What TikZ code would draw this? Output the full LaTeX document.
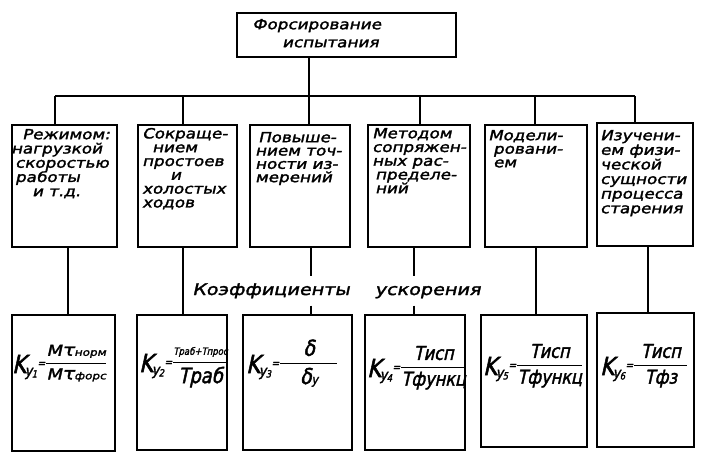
\documentclass[tikz,border=0pt]{standalone}
\usepackage{amsmath}
\usepackage{fontspec}
\setmainfont{DejaVu Sans}[FakeStretch=1.2,FakeSlant=0.22,FakeBold=2]
\newfontfamily\kfont{DejaVu Sans}[FakeStretch=0.85,FakeSlant=0.22,FakeBold=2]
\newcommand\sm[2]{{\fontsize{#1}{#1}\selectfont #2}}
\newcommand\sk[2]{{\kfont\fontsize{#1}{#1}\selectfont #2}}
\newcommand\Kf[1]{\sk{25}{K}\kern-1.5pt\raisebox{-3pt}{\sk{15}{у}\kern-0.5pt\raisebox{-1.5pt}{\sk{10}{#1}}}\kern0.3pt\raisebox{6pt}{\sk{11}{=}}}
\newcommand\Fr[2]{\raisebox{5.5pt}{$\genfrac{}{}{1.3pt}{0}{\text{#1}}{\text{#2}}$}}
\tikzset{
  box/.style={draw, line width=2.5pt, inner sep=0pt},
  conn/.style={line width=1.3pt},
  txt/.style={anchor=north west, inner sep=0pt, align=left},
  frm/.style={anchor=base west, inner sep=0pt, font=\fontsize{18}{18}\selectfont},
}
\begin{document}
\begin{tikzpicture}[x=1pt,y=-1pt]
\useasboundingbox (0,0) rectangle (707,461);
% top box
\node[box, minimum width=219pt, minimum height=44pt] (top) at (346.5,35) {};
\node[txt, font=\fontsize{14}{18}\selectfont] (ttop) at (252,18.8) {Форсирование\\\hspace*{30pt}испытания};
% upper row boxes
\node[box, minimum width=105pt, minimum height=122pt] (b1) at (64.5,186) {};
\node[box, minimum width=99pt, minimum height=122pt] (b2) at (187.5,186) {};
\node[box, minimum width=100pt, minimum height=122pt] (b3) at (300,186) {};
\node[box, minimum width=102pt, minimum height=122pt] (b4) at (419,186) {};
\node[box, minimum width=102pt, minimum height=122pt] (b5) at (536,186) {};
\node[box, minimum width=96pt, minimum height=123pt] (b6) at (645,184.5) {};
% lower row boxes
\node[box, minimum width=103pt, minimum height=136pt] (c1) at (63.5,383) {};
\node[box, minimum width=90pt, minimum height=135pt] (c2) at (182,382.5) {};
\node[box, minimum width=109pt, minimum height=135pt] (c3) at (297.5,382.5) {};
\node[box, minimum width=100pt, minimum height=135pt] (c4) at (415,382.5) {};
\node[box, minimum width=106pt, minimum height=132pt] (c5) at (534,381) {};
\node[box, minimum width=97pt, minimum height=134pt] (c6) at (645.5,380) {};
% texts in upper boxes
\node[txt, font=\fontsize{14}{14.25}\selectfont] (t1) at (11,128.8) {\hspace*{11pt}Режимом:\\нагрузкой\\\hspace*{4pt}скоростью\\\hspace*{4pt}работы\\\hspace*{21pt}и т.д.};
\node[txt, font=\fontsize{14}{13.8}\selectfont] (t2) at (142,127.8) {Сокраще-\\\hspace*{10pt}нием\\простоев\\\hspace*{28pt}и\\холостых\\ходов};
\node[txt, font=\fontsize{14}{13.3}\selectfont] (t3) at (255,131.8) {\hspace*{3pt}Повыше-\\нием точ-\\ности из-\\мерений};
\node[txt, font=\fontsize{14}{13.75}\selectfont] (t4) at (372,127.8) {Методом\\сопряжен-\\ных рас-\\\hspace*{3pt}пределе-\\\hspace*{3pt}ний};
\node[txt, font=\fontsize{14}{13.5}\selectfont] (t5) at (488,129.8) {Модели-\\\hspace*{5pt}ровани-\\\hspace*{5pt}ем};
\node[txt, font=\fontsize{14}{14.6}\selectfont] (t6) at (600,129.8) {Изучени-\\ем физи-\\ческой\\сущности\\процесса\\старения};
% formulas
\node[frm] (f1) at (12,373) {\Kf{1}\Fr{\sm{15}{M}\sm{17}{τ}\sm{10}{норм}}{\sm{15}{M}\sm{17}{τ}\sm{10}{форс}}};
\node[frm] (f2) at (139,372) {\Kf{2}\Fr{\sk{10}{Tраб+Tпрос}}{\sk{21}{Tраб}}};
\node[frm] (f3) at (246,373) {\Kf{3}\Fr{\makebox[57pt]{\sk{22}{δ}}}{\sk{22}{δ}\sk{13}{у}}};
\node[frm] (f4) at (367,377) {\Kf{4}\Fr{\sk{19}{Tисп}}{\sk{19}{Tфункц}}};
\node[frm] (f5) at (483,375) {\Kf{5}\Fr{\makebox[63pt]{\sk{19}{Tисп}}}{\sk{19}{Tфункц}}};
\node[frm] (f6) at (600,375) {\Kf{6}\Fr{\makebox[53pt]{\sk{19}{Tисп}}}{\sk{19}{Tфз}}};
% label
\node[anchor=base west, inner xsep=0pt, inner ysep=7pt, font=\fontsize{16}{16}\selectfont] (lab) at (192,295) {Коэффициенты\hspace{25pt}ускорения};
% connectors
\coordinate (j) at (309,96);
\coordinate (hL) at (55,96);
\coordinate (hR) at (635,96);
\coordinate (u2) at (183,96);
\coordinate (u4) at (420,96);
\coordinate (u5) at (535,96);
\draw[conn] (top.south -| j) -- (j);
\draw[conn] (hL) -- (hR);
\draw[conn] (hL) -- (hL |- b1.north);
\draw[conn] (u2) -- (u2 |- b2.north);
\draw[conn] (j) -- (j |- b3.north);
\draw[conn] (u4) -- (u4 |- b4.north);
\draw[conn] (u5) -- (u5 |- b5.north);
\draw[conn] (hR) -- (hR |- b6.north);
\coordinate (d1) at (68,0);
\coordinate (d2) at (183,0);
\coordinate (d3) at (311,0);
\coordinate (d4) at (414,0);
\coordinate (d5) at (536,0);
\coordinate (d6) at (648,0);
\draw[conn] (d1 |- b1.south) -- (d1 |- c1.north);
\draw[conn] (d2 |- b2.south) -- (d2 |- c2.north);
\draw[conn] (d3 |- b3.south) -- (d3 |- lab.north);
\draw[conn] (d3 |- lab.south) -- (d3 |- c3.north);
\draw[conn] (d4 |- b4.south) -- (d4 |- lab.north);
\draw[conn] (d4 |- lab.south) -- (d4 |- c4.north);
\draw[conn] (d5 |- b5.south) -- (d5 |- c5.north);
\draw[conn] (d6 |- b6.south) -- (d6 |- c6.north);
\end{tikzpicture}
\end{document}
